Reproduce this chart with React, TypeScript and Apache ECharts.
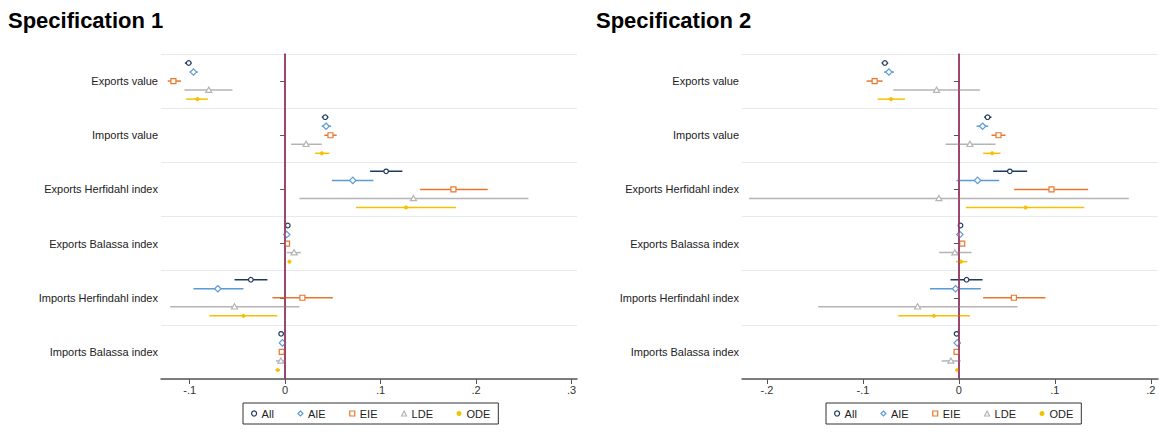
import React, { useEffect, useRef } from "react";
import * as echarts from "echarts";

const categories = [
  "Exports value",
  "Imports value",
  "Exports Herfidahl index",
  "Exports Balassa index",
  "Imports Herfindahl index",
  "Imports Balassa index",
];

const seriesNames = ["All", "AIE", "EIE", "LDE", "ODE"];

// [estimate, lower, upper] for each category
const spec1All = [[-0.101, -0.105, -0.098], [0.042, 0.0384, 0.0454], [0.1058, 0.089, 0.1228], [0.0028, 0.0018, 0.0038], [-0.0359, -0.053, -0.0185], [-0.0042, -0.0063, -0.0021]];
const spec1AIE = [[-0.096, -0.1, -0.0915], [0.0429, 0.0384, 0.0482], [0.0709, 0.0489, 0.0925], [0.0017, 0.0005, 0.0029], [-0.0705, -0.096, -0.0437], [-0.0028, -0.0052, -0.0004]];
const spec1EIE = [[-0.117, -0.123, -0.109], [0.0475, 0.041, 0.054], [0.1763, 0.1414, 0.2122], [0.002, 0.001, 0.003], [0.0181, -0.0133, 0.05], [-0.0035, -0.0056, -0.0014]];
const spec1LDE = [[-0.08, -0.1054, -0.0552], [0.022, 0.0063, 0.0384], [0.1344, 0.015, 0.2548], [0.0094, 0.0017, 0.0164], [-0.053, -0.1204, 0.015], [-0.0045, -0.0097, 0.0007]];
const spec1ODE = [[-0.0918, -0.1037, -0.081], [0.0384, 0.0314, 0.0464], [0.1267, 0.0743, 0.179], [0.0045, 0.003, 0.006], [-0.0436, -0.0792, -0.0081], [-0.0077, -0.01, -0.0054]];

const spec2All = [[-0.0771, -0.0806, -0.0736], [0.0299, 0.0264, 0.034], [0.0531, 0.0357, 0.0712], [0.0017, 0.0005, 0.0029], [0.008, -0.0087, 0.0247], [-0.0024, -0.0036, -0.0012]];
const spec2AIE = [[-0.0729, -0.078, -0.0677], [0.0247, 0.0184, 0.0306], [0.0195, -0.0024, 0.042], [0.001, -0.0005, 0.0025], [-0.0035, -0.0302, 0.0229], [-0.0017, -0.0032, -0.0002]];
const spec2EIE = [[-0.0878, -0.0962, -0.0795], [0.0413, 0.034, 0.0486], [0.0965, 0.0576, 0.1347], [0.0035, 0.0018, 0.0052], [0.0573, 0.0253, 0.0903], [-0.0024, -0.0045, -0.0003]];
const spec2LDE = [[-0.0233, -0.0684, 0.0219], [0.0115, -0.0139, 0.0382], [-0.0208, -0.2188, 0.1771], [-0.0042, -0.0205, 0.0132], [-0.043, -0.1466, 0.0611], [-0.0083, -0.018, 0.002]];
const spec2ODE = [[-0.0708, -0.0847, -0.0562], [0.0347, 0.0253, 0.0434], [0.0694, 0.0073, 0.1306], [0.0021, -0.003, 0.0087], [-0.026, -0.0632, 0.0115], [-0.0017, -0.0036, 0.0002]];

const spec1TickValues = [-0.1, 0, 0.1, 0.2, 0.3];
const spec2TickValues = [-0.2, -0.1, 0, 0.1, 0.2];
const spec1Range = [-0.13, 0.3057];
const spec2Range = [-0.226, 0.2075];

const titles = ["Specification 1", "Specification 2"];

const colors = ["#1f3a60", "#5b9bd5", "#e8772e", "#b4b4b4", "#f5c000"];
const shapes = ["circle", "diamond", "square", "triangle", "dot"];

const FONT = "'Liberation Sans', Arial, sans-serif";

function fmtTick(v: number) {
  if (Math.abs(v) < 1e-9) return "0";
  const s = String(Math.round(Math.abs(v) * 10));
  return (v < 0 ? "-" : "") + "." + s;
}

function markerShape(shape: string, x: number, y: number, color: string) {
  const hollow = { fill: "#fff", stroke: color, lineWidth: 1.2 };
  if (shape === "circle") return { type: "circle", shape: { cx: x, cy: y, r: 2.3 }, style: hollow };
  if (shape === "diamond")
    return { type: "polygon", shape: { points: [[x, y - 3.2], [x + 3.2, y], [x, y + 3.2], [x - 3.2, y]] }, style: hollow };
  if (shape === "square") return { type: "rect", shape: { x: x - 2.5, y: y - 2.5, width: 5, height: 5 }, style: hollow };
  if (shape === "triangle")
    return { type: "polygon", shape: { points: [[x, y - 3], [x + 3, y + 2.2], [x - 3, y + 2.2]] }, style: hollow };
  return { type: "circle", shape: { cx: x, cy: y, r: 1.8 }, style: { fill: color, stroke: color, lineWidth: 0.5 } };
}

function makeRender(k: number) {
  const color = colors[k];
  const shape = shapes[k];
  return (params: any, api: any) => {
    const cat = api.value(3);
    const c = api.coord([api.value(0), cat]);
    const lo = api.coord([api.value(1), cat]);
    const hi = api.coord([api.value(2), cat]);
    const band = api.size([0, 1])[1];
    const y = c[1] + ((k - 2) * band) / 6;
    return {
      type: "group",
      children: [
        { type: "line", shape: { x1: lo[0], y1: y, x2: hi[0], y2: y }, style: { stroke: color, lineWidth: 1.5 } },
        markerShape(shape, c[0], y, color),
      ],
    };
  };
}

export default function App() {
  const ref = useRef<HTMLDivElement>(null);
  useEffect(() => {
    document.body.style.margin = "0";
    const chart = echarts.init(ref.current!, null, { renderer: "svg" });
    const specs = [
      [spec1All, spec1AIE, spec1EIE, spec1LDE, spec1ODE],
      [spec2All, spec2AIE, spec2EIE, spec2LDE, spec2ODE],
    ];
    const ticks = [spec1TickValues, spec2TickValues];
    const ranges = [spec1Range, spec2Range];
    const gridLefts = [161, 742];
    const legendLefts = [243, 826];
    const titleLefts = [8, 596];

    const series: any[] = [];
    specs.forEach((spec, g) => {
      series.push({
        type: "line",
        name: "zero" + g,
        xAxisIndex: g,
        yAxisIndex: g,
        data: [],
        z: 1,
        markLine: {
          silent: true,
          symbol: ["none", "none"],
          label: { show: false },
          lineStyle: { color: "#a3336a", width: 1.5, type: "solid" },
          data: [{ xAxis: 0 }],
        },
      });
      spec.forEach((rows, k) => {
        series.push({
          type: "custom",
          name: seriesNames[k],
          xAxisIndex: g,
          yAxisIndex: g,
          z: 3,
          itemStyle: { color: colors[k] },
          encode: { x: [0, 1, 2], y: 3 },
          renderItem: makeRender(k),
          data: rows.map((r, i) => [r[0], r[1], r[2], i]),
        });
      });
    });

    const legendIcons = ["circle", "diamond", "rect", "triangle", "circle"];
    const legendData = seriesNames.map((n, k) => ({
      name: n,
      icon: legendIcons[k],
      itemStyle:
        k === 4
          ? { color: colors[k], borderWidth: 0 }
          : { color: "#fff", borderColor: colors[k], borderWidth: 1.2 },
    }));

    chart.setOption({
      animation: false,
      textStyle: { fontFamily: FONT },
      title: titles.map((t, g) => ({
        text: t,
        left: titleLefts[g],
        top: 9,
        padding: 0,
        textStyle: { fontSize: 22, fontWeight: "bold", color: "#000", fontFamily: FONT },
      })),
      legend: legendLefts.map((l) => ({
        left: l,
        top: 403,
        selectedMode: false,
        itemWidth: 5,
        itemHeight: 5,
        itemGap: 23.5,
        padding: [5, 8],
        borderColor: "#333",
        borderWidth: 1,
        textStyle: { fontSize: 11, color: "#222", fontFamily: FONT },
        data: legendData,
      })),
      grid: gridLefts.map((l) => ({ left: l, top: 54, width: 416, height: 325, containLabel: false })),
      xAxis: ranges.map((r, g) => ({
        type: "value",
        gridIndex: g,
        min: r[0],
        max: r[1],
        axisLine: { show: true, lineStyle: { color: "#555", width: 1.5 } },
        axisTick: { show: true, length: 5, customValues: ticks[g], lineStyle: { color: "#555" } },
        axisLabel: { customValues: ticks[g], formatter: fmtTick, fontSize: 11, color: "#333", margin: 5 },
        splitLine: { show: false },
      })),
      yAxis: gridLefts.map((_, g) => ({
        type: "category",
        gridIndex: g,
        inverse: true,
        data: categories,
        axisLine: { show: true, lineStyle: { color: "#555", width: 1.5 } },
        axisTick: { show: true, alignWithLabel: true, length: 5, lineStyle: { color: "#555" } },
        axisLabel: { fontSize: 11, color: "#222", margin: 3 },
        splitLine: { show: true, lineStyle: { color: "#e6eaee", width: 1 } },
      })),
      series,
    });
    return () => chart.dispose();
  }, []);
  return <div ref={ref} style={{ width: 1159, height: 434 }} />;
}
